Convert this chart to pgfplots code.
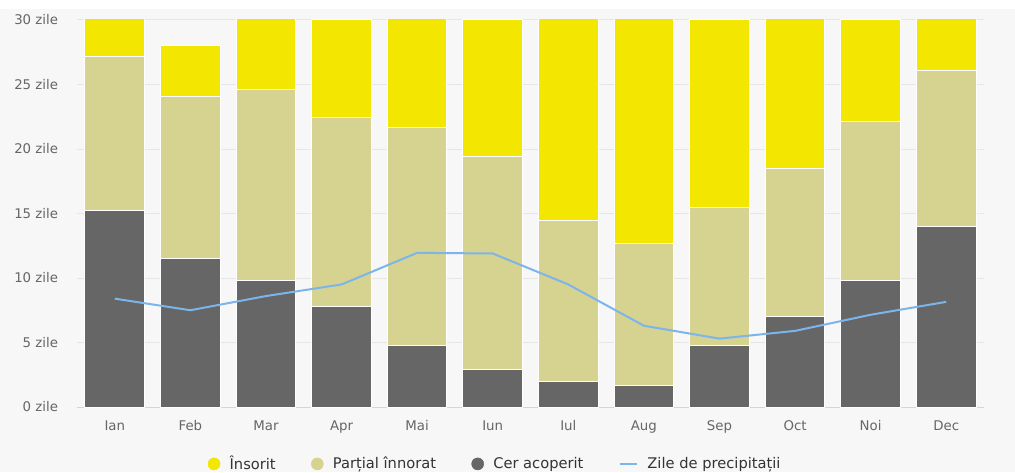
\documentclass[border=0pt]{standalone}
\usepackage{fontspec}
\setmainfont{DejaVu Sans}
\usepackage{pgfplots}
\pgfplotsset{compat=1.18}
\definecolor{bgc}{HTML}{F7F7F7}
\definecolor{yel}{HTML}{F3E600}
\definecolor{khaki}{HTML}{D6D290}
\definecolor{darkc}{HTML}{666666}
\definecolor{lineblue}{HTML}{7CB5EC}
\definecolor{gridc}{HTML}{E6E6E6}
\definecolor{axisc}{HTML}{CCD6EB}
\definecolor{tickc}{HTML}{666666}
\definecolor{legc}{HTML}{333333}
\begin{document}
\begin{tikzpicture}
\fill[bgc] (-57.75pt,-48.75pt) rectangle (703.5pt,305.25pt);
\fill[white] (-57.75pt,298.5pt) rectangle (703.5pt,305.25pt);
\pgfplotsset{
  common/.style={
    scale only axis, width=680.25pt, height=290.25pt,
    xmin=-0.5, xmax=11.5, ymin=0, ymax=30,
  }
}
\begin{axis}[common,
  ybar stacked, bar width=0.79,
  axis lines*=left,
  y axis line style={draw=none},
  x axis line style={draw=axisc, line width=0.75pt},
  major tick length=0pt,
  ymajorgrids, grid style={draw=gridc, line width=0.75pt},
  ytick={0,5,...,30},
  yticklabels={0 zile,5 zile,10 zile,15 zile,20 zile,25 zile,30 zile},
  xtick={0,...,11},
  xticklabels={Ian,Feb,Mar,Apr,Mai,Iun,Iul,Aug,Sep,Oct,Noi,Dec},
  yticklabel style={inner sep=0pt, anchor=east, xshift=-14pt, font=\fontsize{10}{12}\selectfont, text=tickc},
  xticklabel style={inner sep=0pt, anchor=base, yshift=-17.25pt, font=\fontsize{10}{12}\selectfont, text=tickc},
]
\addplot[fill=darkc, draw=white, line width=0.75pt] coordinates {
(0,15.2) (1,11.5) (2,9.8) (3,7.8) (4,4.75) (5,2.9) (6,2.0) (7,1.7) (8,4.75) (9,7.05) (10,9.8) (11,14.0)};
\addplot[fill=khaki, draw=white, line width=0.75pt] coordinates {
(0,11.95) (1,12.6) (2,14.8) (3,14.65) (4,16.9) (5,16.5) (6,12.45) (7,11.0) (8,10.75) (9,11.45) (10,12.3) (11,12.1)};
\addplot[fill=yel, draw=white, line width=0.75pt] coordinates {
(0,3.85) (1,3.9) (2,6.4) (3,7.55) (4,9.35) (5,10.6) (6,16.55) (7,18.3) (8,14.5) (9,12.5) (10,7.9) (11,4.9)};
\end{axis}
\begin{axis}[common, hide axis,
  legend style={draw=none, fill=none, at={(0.4614,-0.147)}, anchor=center,
    legend columns=4, font=\fontsize{11}{13}\selectfont, text=legc,
    /tikz/every odd column/.append style={column sep=5pt},
    /tikz/every even column/.append style={column sep=24.5pt}},
]
\addlegendimage{legend image code/.code={\fill[yel] (4.5pt,0pt) circle (4.5pt);}}
\addlegendentry{Însorit}
\addlegendimage{legend image code/.code={\fill[khaki] (4.5pt,0pt) circle (4.5pt);}}
\addlegendentry{Parțial înnorat}
\addlegendimage{legend image code/.code={\fill[darkc] (4.5pt,0pt) circle (4.5pt);}}
\addlegendentry{Cer acoperit}
\addlegendimage{legend image code/.code={\draw[lineblue, line width=1.5pt] (0pt,0pt) -- (13pt,0pt);}}
\addlegendentry{Zile de precipitații}
\addplot[lineblue, line width=1.5pt, line join=round, forget plot] coordinates {
(0,8.4) (1,7.5) (2,8.6) (3,9.5) (4,11.95) (5,11.9) (6,9.5) (7,6.3) (8,5.3) (9,5.9) (10,7.15) (11,8.15)};
\end{axis}
\pgfresetboundingbox
\path[use as bounding box] (-57.75pt,-48.75pt) rectangle (703.5pt,305.25pt);
\end{tikzpicture}
\end{document}
